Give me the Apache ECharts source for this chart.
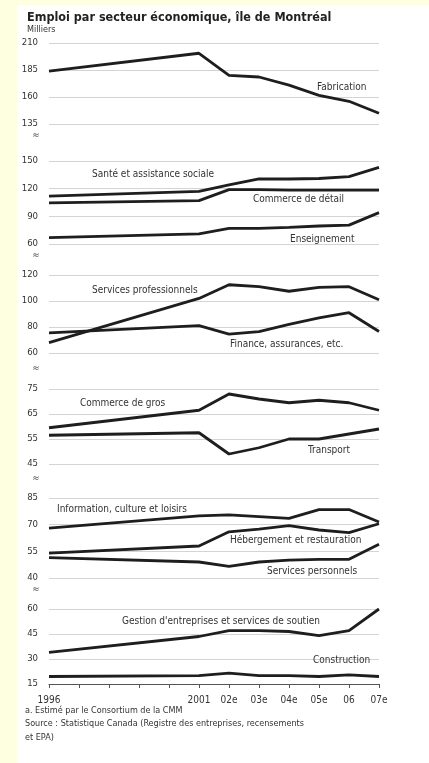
<!DOCTYPE html>
<html><head><meta charset="utf-8">
<script src="https://cdn.jsdelivr.net/npm/echarts@6/dist/echarts.min.js"></script>
<style>html,body{margin:0;padding:0;background:#fff}#c{width:429px;height:763px}</style>
</head><body><div id="c"></div>
<script>
// ---- data ----
const years = ['1996','1997','1998','1999','2000','2001','02e','03e','04e','05e','06','07e'];
const yearLabels = ['1996','','','','','2001','02e','03e','04e','05e','06','07e'];
const fabrication    = [184, null, null, null, null, 200.5, 180, 178.5, 171, 161.5, 156, 145];
const sante          = [112, null, null, null, null, 117, 124, 130.5, 130.5, 131, 133, 143];
const commerceDetail = [104.5, null, null, null, null, 107, 119, 119, 118.5, 118.5, 118.5, 118.5];
const enseignement   = [67, null, null, null, null, 71, 77, 77, 78, 79.5, 80.5, 94];
const servicesPro    = [68, null, null, null, null, 102, 112.5, 111, 107.5, 110.5, 111, 101];
const finance        = [75.5, null, null, null, null, 81, 74.5, 76.5, 82, 87, 91, 76.5];
const commerceGros   = [59.5, null, null, null, null, 66.5, 73, 71, 69.5, 70.5, 69.5, 66.5];
const transport      = [56.5, null, null, null, null, 57.5, 49, 51.5, 55, 55, 57, 59];
const information    = [68, null, null, null, null, 75, 75.5, 74.5, 73.5, 78.5, 78.5, 71.5];
const hebergement    = [54, null, null, null, null, 58, 66, 67.5, 69.5, 67, 65.5, 70.5];
const servicesPerso  = [51.5, null, null, null, null, 49, 46.5, 49, 50, 50.5, 50.5, 59];
const gestion        = [34, null, null, null, null, 43.5, 47, 47, 46.5, 44, 47, 60];
const construction   = [19.5, null, null, null, null, 20, 21.5, 20, 20, 19.5, 20.5, 19.5];

const panels = [
  {min:135, max:210, interval:25, top:43, bottom:124, series:[['Fabrication',fabrication]]},
  {min:60, max:150, interval:30, top:161, bottom:244, series:[['Santé et assistance sociale',sante],['Commerce de détail',commerceDetail],['Enseignement',enseignement]]},
  {min:60, max:120, interval:20, top:275, bottom:353, series:[['Services professionnels',servicesPro],['Finance, assurances, etc.',finance]]},
  {min:45, max:75, interval:10, top:389, bottom:464, series:[['Commerce de gros',commerceGros],['Transport',transport]]},
  {min:40, max:85, interval:15, top:498, bottom:578, series:[['Information, culture et loisirs',information],['Hébergement et restauration',hebergement],['Services personnels',servicesPerso]]},
  {min:15, max:60, interval:15, top:609, bottom:684, series:[["Gestion d'entreprises et services de soutien",gestion],['Construction',construction]]}
];

const labelPos = [
  ['Fabrication',317,87],
  ['Santé et assistance sociale',92,174],
  ['Commerce de détail',253,199],
  ['Enseignement',290,239],
  ['Services professionnels',92,290],
  ['Finance, assurances, etc.',230,344],
  ['Commerce de gros',80,403],
  ['Transport',308,450],
  ['Information, culture et loisirs',57,509],
  ['Hébergement et restauration',230,540],
  ['Services personnels',267,571],
  ["Gestion d'entreprises et services de soutien",122,621],
  ['Construction',313,660]
];
const breakY = [135,255,368,478,589];

const FONT = '"Liberation Sans Narrow","DejaVu Sans Condensed","Liberation Sans",sans-serif';
const TXT = '#333';

const grid=[], xAxis=[], yAxis=[], series=[];
panels.forEach((p,i)=>{
  const last = i===panels.length-1;
  grid.push({left:49, right:50, top:p.top, height:p.bottom-p.top});
  xAxis.push({type:'category', gridIndex:i, data:years, boundaryGap:false, show:last,
    axisLine:{show:last, lineStyle:{color:'#555', width:1}},
    axisTick:{show:last, length:4, lineStyle:{color:'#555'}},
    axisLabel:{show:last, interval:0, margin:11, fontSize:10, color:TXT, fontFamily:FONT,
      formatter:(v,idx)=>yearLabels[idx]},
    splitLine:{show:false}});
  yAxis.push({type:'value', gridIndex:i, min:p.min, max:p.max, interval:p.interval,
    axisLine:{show:false}, axisTick:{show:false},
    axisLabel:{margin:11, fontSize:9.5, color:TXT, fontFamily:FONT},
    splitLine:{show:true, lineStyle:{color:'#d4d4d4', width:1}}});
  p.series.forEach(([name,data])=>{
    series.push({type:'line', name, xAxisIndex:i, yAxisIndex:i, data, connectNulls:true,
      showSymbol:false, symbol:'none', animation:false,
      lineStyle:{color:'#1e1e1e', width:2.8}});
  });
});

const graphic = [
  {type:'rect', shape:{x:0,y:0,width:17,height:763}, style:{fill:'#FEFEE0'}, z:0},
  {type:'rect', shape:{x:0,y:0,width:429,height:5}, style:{fill:'#FEFEE0'}, z:0},
  {type:'text', left:27, top:11, style:{text:'Emploi par secteur économique, île de Montréal', font:'bold 12.5px '+FONT, fill:'#222'}, z:10},
  {type:'text', left:27, top:25, style:{text:'Milliers', font:'9px '+FONT, fill:TXT}, z:10},
  {type:'text', left:25, top:706, style:{text:'a. Estimé par le Consortium de la CMM', font:'9px '+FONT, fill:TXT}, z:10},
  {type:'text', left:25, top:719, style:{text:'Source : Statistique Canada (Registre des entreprises, recensements', font:'9px '+FONT, fill:TXT}, z:10},
  {type:'text', left:25, top:733, style:{text:'et EPA)', font:'9px '+FONT, fill:TXT}, z:10}
];
labelPos.forEach(([t,x,y])=>graphic.push({type:'text', x, y, style:{text:t, font:'10px '+FONT, fill:TXT, textVerticalAlign:'middle'}, z:10}));
breakY.forEach(y=>graphic.push({type:'text', x:36, y, style:{text:'≈', font:'10px '+FONT, fill:'#555', textAlign:'center', textVerticalAlign:'middle'}, z:10}));

const chart = echarts.init(document.getElementById('c'));
chart.setOption({backgroundColor:'#fff', animation:false, grid, xAxis, yAxis, series, graphic});
</script></body></html>
